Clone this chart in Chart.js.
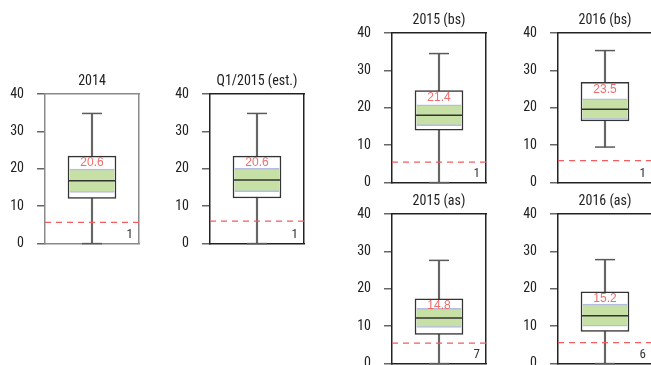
<!DOCTYPE html>
<html>
<head>
<meta charset="utf-8">
<script src="https://cdn.jsdelivr.net/npm/chart.js@4/dist/chart.umd.min.js"></script>
<style>
html,body{margin:0;padding:0;background:#fff;width:651px;height:365px;overflow:hidden;position:relative;}
canvas{position:absolute;}
</style>
</head>
<body>
<script>
// ---- data ----
const titles      = ['2014', 'Q1/2015 (est.)', '2015 (bs)', '2016 (bs)', '2015 (as)', '2016 (as)'];
const whiskerLow  = [0, 0, 0, 9.5, 0, 0];
const q1          = [12.1, 12.2, 14.0, 16.5, 7.8, 8.6];
const bandLow     = [13.7, 13.9, 15.2, 16.9, 9.7, 10.0];
const median      = [16.8, 17.0, 18.0, 19.6, 12.2, 12.8];
const bandHigh    = [19.9, 20.1, 20.8, 22.4, 14.8, 15.9];
const q3          = [23.4, 23.4, 24.6, 26.8, 17.3, 19.2];
const whiskerHigh = [34.8, 34.8, 34.5, 35.3, 27.6, 27.8];
const threshold   = [5.7, 6.0, 5.5, 5.9, 5.5, 5.6];
const meanLabels  = ['20.6', '20.6', '21.4', '23.5', '14.8', '15.2'];
const countLabels = ['1', '1', '1', '1', '7', '6'];
const yTicks      = [0, 10, 20, 30, 40];

// ---- layout / style ----
const plotPos = [[45, 94], [210, 94], [392, 33], [558, 33], [392, 214], [558, 214]];
const frameColors = ['#8a8a8a', '#222', '#222', '#222', '#222', '#222'];
const PLOT_W = 94, PLOT_H = 150, LEFT = 45, TOP = 30, RIGHT = 6, BOTTOM = 10;
const cond = '"Roboto Condensed", "DejaVu Sans Condensed", sans-serif';
const regular = '"Liberation Sans", Arial, sans-serif';

const boxExtras = {
  id: 'boxExtras',
  afterDatasetsDraw(chart) {
    const i = chart.options.panelIndex;
    const {ctx} = chart;
    const ys = chart.scales.y, xs = chart.scales.x;
    const cx = xs.getPixelForValue(0);
    const area = chart.chartArea;
    ctx.save();
    // whisker caps
    ctx.strokeStyle = '#5a5a5a';
    ctx.lineWidth = 1.5;
    [whiskerLow[i], whiskerHigh[i]].forEach(v => {
      const py = ys.getPixelForValue(v);
      ctx.beginPath(); ctx.moveTo(cx - 10, py); ctx.lineTo(cx + 10, py); ctx.stroke();
    });
    // median
    ctx.strokeStyle = '#333';
    const my = ys.getPixelForValue(median[i]);
    ctx.beginPath(); ctx.moveTo(cx - 23, my); ctx.lineTo(cx + 23, my); ctx.stroke();
    // mean label
    ctx.fillStyle = '#f26c6c';
    ctx.font = '12px ' + regular;
    ctx.textAlign = 'center';
    ctx.textBaseline = 'top';
    ctx.fillText(meanLabels[i], cx, ys.getPixelForValue(q3[i]) + 1);
    // count label
    ctx.fillStyle = '#333';
    ctx.font = '13px ' + cond;
    ctx.textAlign = 'right';
    ctx.textBaseline = 'bottom';
    ctx.fillText(countLabels[i], area.right - 6, area.bottom - 2);
    ctx.restore();
  }
};

function makeChart(i, H) {
  const title = titles[i];
  const cv = document.createElement('canvas');
  const W = LEFT + PLOT_W + RIGHT;
  cv.width = W; cv.height = H;
  cv.style.left = (plotPos[i][0] - LEFT) + 'px';
  cv.style.top = (plotPos[i][1] - TOP) + 'px';
  cv.style.width = W + 'px'; cv.style.height = H + 'px';
  document.body.appendChild(cv);
  const frame = frameColors[i];
  const border = {display: true, color: frame, width: 1.5};
  const chart = new Chart(cv, {
    type: 'bar',
    data: {
      labels: [title],
      datasets: [
        {data: [[whiskerLow[i], whiskerHigh[i]]], backgroundColor: '#666', borderWidth: 0,
         barThickness: 1.5, grouped: false, order: 3},
        {data: [[q1[i], q3[i]]], backgroundColor: '#fff', borderColor: '#333', borderWidth: 1.5,
         borderSkipped: false, barThickness: 48, grouped: false, order: 2},
        {data: [[bandLow[i], bandHigh[i]]], backgroundColor: '#c6e0a6', borderColor: '#b5bce2',
         borderWidth: {top: 1.5, bottom: 1.5, left: 0, right: 0}, borderSkipped: false,
         barThickness: 45, grouped: false, order: 1},
        {type: 'line', xAxisID: 'x2', yAxisID: 'y',
         data: [{x: 0, y: threshold[i]}, {x: 1, y: threshold[i]}],
         borderColor: '#f25e5e', borderWidth: 1.3, borderDash: [6, 5], pointRadius: 0, order: 0}
      ]
    },
    options: {
      panelIndex: i,
      responsive: false,
      maintainAspectRatio: false,
      animation: false,
      events: [],
      layout: {padding: {left: 0, right: RIGHT, top: 0, bottom: 0}},
      plugins: {legend: {display: false}, tooltip: {enabled: false}, title: {display: false}},
      scales: {
        x: {type: 'category', position: 'bottom', offset: true,
            ticks: {display: false}, grid: {display: false}, border: border,
            afterFit: s => { s.height = BOTTOM; }},
        x2: {type: 'linear', position: 'top', min: 0, max: 1, offset: false,
             ticks: {display: false}, grid: {display: false, offset: false}, border: border,
             title: {display: true, text: title, color: '#222',
                     font: {family: cond, size: 14}, padding: {top: 9, bottom: 0}},
             afterFit: s => { s.height = TOP; }},
        y: {type: 'linear', position: 'left', min: 0, max: 40,
            afterBuildTicks: s => { s.ticks = yTicks.map(v => ({value: v})); },
            ticks: {padding: 13, color: '#222', font: {family: cond, size: 14}},
            grid: {drawOnChartArea: false, drawTicks: true, tickLength: 8, color: '#666', lineWidth: 1.5},
            border: border,
            afterFit: s => { s.width = LEFT; }},
        y2: {type: 'linear', position: 'right', min: 0, max: 40,
             ticks: {display: false}, grid: {display: false}, border: border,
             afterFit: s => { s.width = 0; }}
      }
    },
    plugins: [boxExtras]
  });
  return {chart, cv};
}

titles.forEach((title, i) => {
  let H = TOP + PLOT_H + BOTTOM;
  let {chart, cv} = makeChart(i, H);
  const ca = chart.chartArea;
  const wantH = PLOT_H, gotH = ca.bottom - ca.top;
  if (Math.abs(wantH - gotH) > 0.5) {
    chart.destroy(); cv.remove();
    makeChart(i, H + (wantH - gotH));
  }
});
</script>
</body>
</html>
